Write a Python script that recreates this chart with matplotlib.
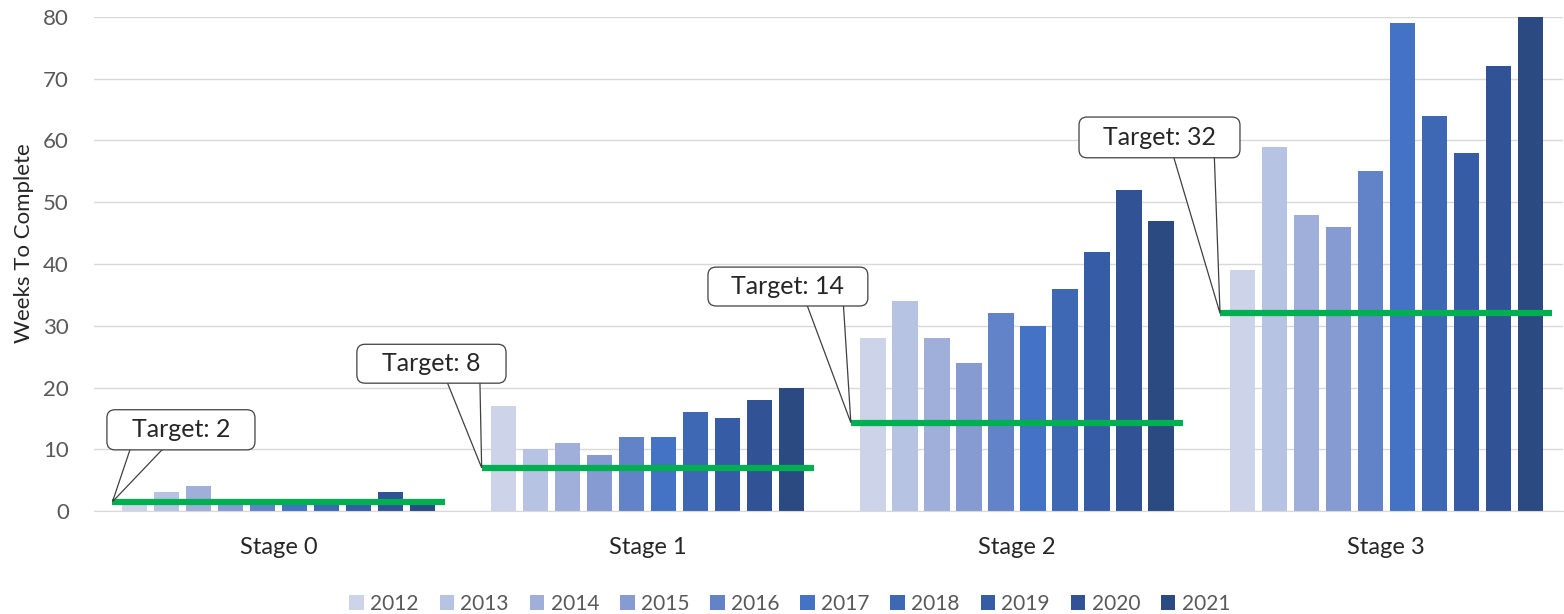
import matplotlib
matplotlib.use("Agg")
import matplotlib.pyplot as plt
from matplotlib.patches import FancyBboxPatch, Polygon
import numpy as np

# data
stages = ["Stage 0", "Stage 1", "Stage 2", "Stage 3"]
years = ["2012", "2013", "2014", "2015", "2016", "2017", "2018", "2019", "2020", "2021"]
weeks = {
    "2012": [1, 17, 28, 39],
    "2013": [3, 10, 34, 59],
    "2014": [4, 11, 28, 48],
    "2015": [1, 9, 24, 46],
    "2016": [1, 12, 32, 55],
    "2017": [1, 12, 30, 79],
    "2018": [1, 16, 36, 64],
    "2019": [1, 15, 42, 58],
    "2020": [3, 18, 52, 72],
    "2021": [1, 20, 47, 80],
}
target_levels = [1.5, 7, 14.3, 32]
target_labels = ["Target: 2", "Target: 8", "Target: 14", "Target: 32"]

# callout boxes (x0, x1, y0, y1) and wedge base (xa, xb), in data units
callout_box = [(-0.465, -0.064, 9.9, 16.4), (0.212, 0.616, 20.7, 27.0),
               (1.163, 1.596, 33.2, 39.5), (2.168, 2.604, 57.2, 63.8)]
wedge_base = [(-0.397, -0.300), (0.451, 0.545), (1.426, 1.529), (2.420, 2.534)]

colors = ["#CDD3E8", "#B7C3E2", "#A0AFDA", "#869BD2", "#6383C9", "#4472C4",
          "#3E67B4", "#375CA6", "#315396", "#2B4A82"]

plt.rcParams["font.family"] = ["Lato", "DejaVu Sans"]

fig = plt.figure(figsize=(15.64, 6.14), dpi=100)
ax = fig.add_axes([94 / 1564, 103 / 614, 1469.4 / 1564, 494 / 614])

x = np.arange(len(stages))
slot = 0.0867
bw = 0.068
for i, yr in enumerate(years):
    ax.bar(x + (i - 4.5) * slot, weeks[yr], bw, color=colors[i], label=yr, zorder=2)

half = 0.45
aspect = 369.2 / 6.175
for k in range(len(stages)):
    x0 = x[k] - half
    ax.plot([x0, x[k] + half], [target_levels[k]] * 2, color="#00B050",
            lw=4.5, solid_capstyle="butt", zorder=3)
    bx0, bx1, by0, by1 = callout_box[k]
    wa, wb = wedge_base[k]
    ax.add_patch(Polygon([(wa, by0 + 1), (wb, by0 + 1), (x0, target_levels[k])],
                         closed=True, fc="white", ec="#404040", lw=0.9, zorder=4))
    ax.add_patch(FancyBboxPatch((bx0, by0), bx1 - bx0, by1 - by0,
                                boxstyle="round,pad=0,rounding_size=0.022",
                                mutation_aspect=aspect, fc="white", ec="#404040",
                                lw=0.9, zorder=5))
    ax.add_patch(Polygon([(wa + 0.003, by0 + 1.2), (wb - 0.003, by0 + 1.2),
                          (wb - 0.003, by0 + 0.12), (wa + 0.003, by0 + 0.12)],
                         closed=True, fc="white", ec="none", zorder=6))
    ax.text((bx0 + bx1) / 2, (by0 + by1) / 2, target_labels[k], ha="center",
            va="center", fontsize=18, color="#262626", zorder=7)

ax.set_xlim(-0.5, 3.48)
ax.set_ylim(0, 80)
ax.set_yticks(range(0, 81, 10))
ax.set_xticks(x)
ax.set_xticklabels(stages)
ax.yaxis.grid(True, color="#D9D9D9", lw=1)
ax.set_axisbelow(True)
for s in ["top", "right", "left"]:
    ax.spines[s].set_visible(False)
ax.spines["bottom"].set_color("#D9D9D9")
ax.tick_params(length=0, labelsize=16, colors="#595959")
ax.tick_params(axis="y", pad=18)
ax.tick_params(axis="x", pad=19, labelsize=17)
for t in ax.get_xticklabels():
    t.set_color("#262626")
ax.set_ylabel("Weeks To Complete", fontsize=16, color="#262626")
ax.yaxis.set_label_coords(-0.0408, 0.5425)

fig.legend(loc="lower center", bbox_to_anchor=(0.505, -0.03), ncol=10, frameon=False,
           fontsize=15, handlelength=0.7, handleheight=0.7, handletextpad=0.3,
           columnspacing=1.0, labelcolor="#595959")

fig.savefig("out.png", dpi=100)
